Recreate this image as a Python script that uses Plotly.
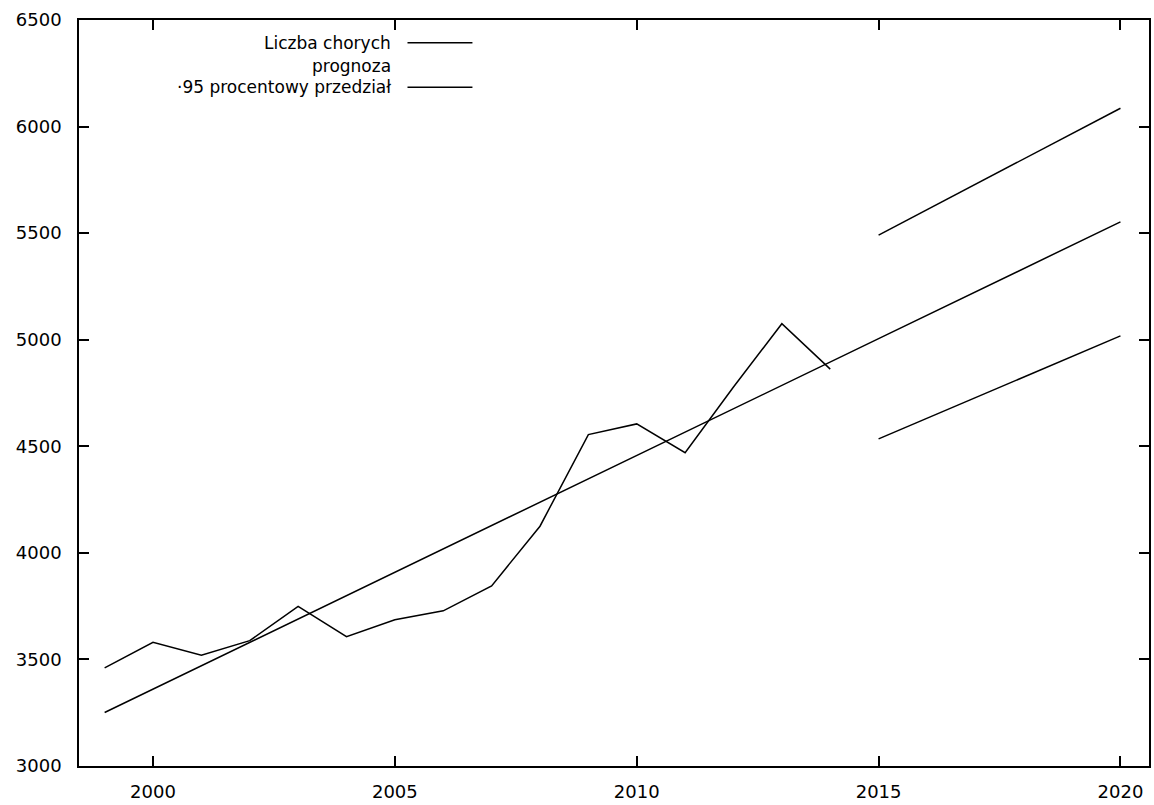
import plotly.graph_objects as go

# Observed number of patients per year
years_obs = [1999, 2000, 2001, 2002, 2003, 2004, 2005, 2006, 2007,
             2008, 2009, 2010, 2011, 2012, 2013, 2014]
liczba_chorych = [3460, 3580, 3520, 3588, 3749, 3607, 3686, 3728, 3845,
                  4125, 4555, 4605, 4470, 4778, 5075, 4862]

# Linear trend / forecast
years_trend = [1999, 2005, 2010, 2015, 2020]
prognoza = [3251, 3910, 4458, 5005, 5553]

# 95% interval for the forecast horizon
years_int = [2015, 2020]
przedzial_gorny = [5491, 6086]
przedzial_dolny = [4535, 5018]

x_ticks = [2000, 2005, 2010, 2015, 2020]
y_ticks = [3000, 3500, 4000, 4500, 5000, 5500, 6000, 6500]

FONT = "DejaVu Sans"
line_style = dict(color="black", width=1.5)

fig = go.Figure()
fig.add_trace(go.Scatter(x=years_obs, y=liczba_chorych, mode="lines",
                         line=line_style, name="Liczba chorych"))
fig.add_trace(go.Scatter(x=years_trend, y=prognoza, mode="lines",
                         line=line_style, name="prognoza"))
fig.add_trace(go.Scatter(x=years_int, y=przedzial_gorny, mode="lines",
                         line=line_style, name="95 procentowy przedział"))
fig.add_trace(go.Scatter(x=years_int, y=przedzial_dolny, mode="lines",
                         line=line_style, showlegend=False))

# gnuplot-style key: right-aligned text with line sample to its right
key_rows = [("Liczba chorych", 0.9695, True),
            ("prognoza", 0.9390, False),
            ("·95 procentowy przedział", 0.9098, True)]
for text, yk, sample in key_rows:
    fig.add_annotation(x=0.293, y=yk, xref="paper", yref="paper",
                       text=text, showarrow=False, xanchor="right",
                       yanchor="middle",
                       font=dict(family=FONT, size=17, color="black"))
    if sample:
        fig.add_shape(type="line", xref="paper", yref="paper",
                      x0=0.307, x1=0.3677, y0=yk, y1=yk,
                      line=dict(color="black", width=1.5))

axis_common = dict(
    showgrid=False, zeroline=False,
    showline=True, linecolor="black", linewidth=1.5,
    mirror="ticks", ticks="inside", ticklen=10, tickwidth=1.5,
    tickcolor="black",
    tickfont=dict(family=FONT, size=18, color="black"),
)

fig.update_layout(
    width=1154, height=805,
    margin=dict(l=79, r=3, t=20, b=31),
    plot_bgcolor="white", paper_bgcolor="white",
    showlegend=False,
    xaxis=dict(range=[1998.47, 2020.59], tickvals=x_ticks,
               ticklabelstandoff=9, **axis_common),
    yaxis=dict(range=[3000, 6500], tickvals=y_ticks,
               ticklabelstandoff=12, **axis_common),
)

fig.write_html("out.html")
